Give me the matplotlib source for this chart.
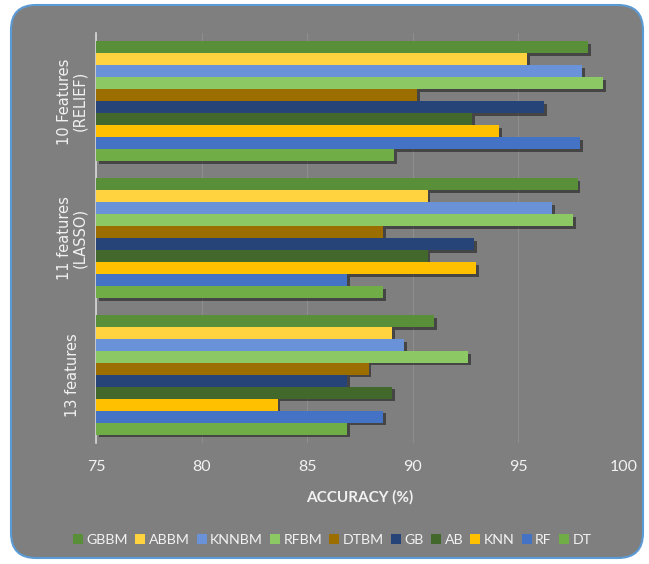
import numpy as np
import matplotlib
matplotlib.use('Agg')
import matplotlib.pyplot as plt
import matplotlib.patheffects as pe
from matplotlib.patches import FancyBboxPatch, Patch

groups = ['13 features', '11 features\n(LASSO)', '10 Features\n(RELIEF)']
series = ['GBBM', 'ABBM', 'KNNBM', 'RFBM', 'DTBM', 'GB', 'AB', 'KNN', 'RF', 'DT']
colors = ['#5a8f3a', '#ffd23f', '#6a92d8', '#8cc864', '#9c6e00',
          '#264478', '#43682b', '#ffc000', '#4472c4', '#70ad47']

# accuracy per series, groups ordered: 13 features, 11 (LASSO), 10 (RELIEF)
acc = {
    'GBBM':  [91.0, 97.8, 98.3],
    'ABBM':  [89.0, 90.7, 95.4],
    'KNNBM': [89.6, 96.6, 98.0],
    'RFBM':  [92.6, 97.6, 99.0],
    'DTBM':  [87.9, 88.6, 90.2],
    'GB':    [86.9, 92.9, 96.2],
    'AB':    [89.0, 90.7, 92.8],
    'KNN':   [83.6, 93.0, 94.1],
    'RF':    [88.6, 86.9, 97.9],
    'DT':    [86.9, 88.6, 89.1],
}

fig = plt.figure(figsize=(6.49, 5.64), dpi=100)
fig.patch.set_facecolor('white')

frame = FancyBboxPatch((0.11, 0.06), 6.32, 5.53,
                       boxstyle='round,pad=0,rounding_size=0.25',
                       transform=fig.dpi_scale_trans,
                       facecolor='#7f7f7f', edgecolor='#5b9bd5', linewidth=1.5,
                       zorder=-10)
fig.add_artist(frame)

ax = fig.add_axes([0.148, 0.2145, 0.8136, 0.727])
ax.set_facecolor('none')

n = len(series)
h = 0.876 / n
y = np.arange(len(groups))
shadow = [pe.SimplePatchShadow(offset=(2, -2), shadow_rgbFace='black', alpha=0.45),
          pe.Normal()]
for i, s in enumerate(series):
    off = (n - 1 - i - (n - 1) / 2) * h
    bars = ax.barh(y + off, np.array(acc[s]) - 75, left=75, height=h,
                   color=colors[i], label=s, zorder=3)
    for b in bars:
        b.set_path_effects(shadow)

ax.set_xlim(75, 100)
ax.set_ylim(-0.5, 2.5)
ax.set_xticks(np.arange(75, 101, 5))
ax.xaxis.grid(True, color='#8e8e8e', linewidth=0.8, zorder=0)
ax.set_axisbelow(True)
for sp in ['top', 'right', 'bottom']:
    ax.spines[sp].set_visible(False)
ax.spines['left'].set_color('#d9d9d9')
ax.spines['left'].set_linewidth(1.2)

ax.set_yticks(y)
ax.set_yticklabels(groups, rotation=90, va='center', ha='center', multialignment='center',
                   color='#f2f2f2', fontsize=10.5, family='DejaVu Sans', linespacing=1.0)
ax.tick_params(axis='y', length=0, pad=17)
ax.tick_params(axis='x', length=0, pad=12, labelcolor='#f2f2f2', labelsize=11.5)
for lbl in ax.get_xticklabels():
    lbl.set_family('Lato')

ax.set_xlabel('ACCURACY (%)', color='#f2f2f2', fontsize=11, fontweight='bold',
              family='Lato', labelpad=12)

handles = [Patch(facecolor=c, label=s) for s, c in zip(series, colors)]
fig.legend(handles=handles, loc='center', bbox_to_anchor=(0.512, 0.043), ncol=10,
           frameon=False, handlelength=0.7, handleheight=0.7, handletextpad=0.25,
           columnspacing=0.5, labelcolor='#f2f2f2', prop={'family': 'Lato', 'size': 10.2})

fig.savefig('out.png', dpi=100, facecolor=fig.get_facecolor())
